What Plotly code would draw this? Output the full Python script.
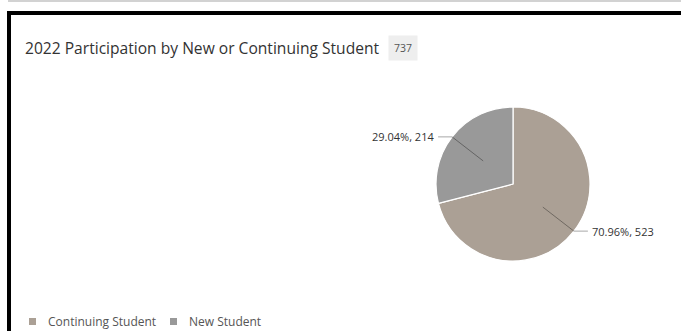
import math
import plotly.graph_objects as go

# Participation counts by student type
categories = ["Continuing Student", "New Student"]
counts = [523, 214]
colors = ["#aba095", "#999999"]
title_text = "2022 Participation by New or Continuing Student"

W, H = 681, 331
total = sum(counts)

# pie placement (pixels)
cx, cy, r = 513, 184, 77


def px(x):
    return x / W


def py(y):
    return 1 - y / H


fig = go.Figure(
    go.Pie(
        labels=categories,
        values=counts,
        sort=False,
        direction="clockwise",
        rotation=0,
        textinfo="none",
        hoverinfo="label+value+percent",
        marker=dict(colors=colors, line=dict(color="#ffffff", width=1.2)),
        domain=dict(x=[px(cx - r), px(cx + r)], y=[py(cy + r), py(cy - r)]),
        showlegend=False,
    )
)

shapes = []
annotations = []


def bar(x0, y0, x1, y1, color):
    return dict(type="rect", xref="paper", yref="paper",
                x0=px(x0), x1=px(x1), y0=py(y1), y1=py(y0),
                line=dict(width=0), fillcolor=color, layer="above")


def seg(x0, y0, x1, y1):
    return dict(type="line", xref="paper", yref="paper",
                x0=px(x0), y0=py(y0), x1=px(x1), y1=py(y1),
                line=dict(color="rgba(0,0,0,0.35)", width=1))


# frame: thin grey rule at the very top, heavy black border (top + left) below it
shapes.append(bar(8, 0, W, 2, "#d2d2d2"))
shapes.append(bar(7, 11, W, 15, "#000000"))
shapes.append(bar(7, 11, 11, H, "#000000"))

# title + total badge
annotations.append(dict(xref="paper", yref="paper", x=px(23), y=py(48),
                        xanchor="left", yanchor="middle", showarrow=False,
                        text=title_text,
                        font=dict(family="Open Sans", size=15.6, color="#333333")))
annotations.append(dict(xref="paper", yref="paper", x=px(388), y=py(48),
                        xanchor="left", yanchor="middle", showarrow=False,
                        text=str(total), bgcolor="#eeeeee", borderpad=5,
                        font=dict(family="Open Sans", size=10.5, color="#555555")))

# outside labels with leader lines, placed at each slice's mid-angle
start = 0.0
for name, v in zip(categories, counts):
    frac = v / total
    mid = start + frac * 180.0
    start += frac * 360.0
    a = math.radians(mid)
    dx, dy = math.sin(a), -math.cos(a)
    x1, y1 = cx + 0.49 * r * dx, cy + 0.49 * r * dy
    x2, y2 = cx + 1.0 * r * dx, cy + 1.0 * r * dy
    side = 1 if dx >= 0 else -1
    x3 = x2 + side * 14
    shapes.append(seg(x1, y1, x2, y2))
    shapes.append(seg(x2, y2, x3, y2))
    annotations.append(dict(xref="paper", yref="paper", x=px(x3 + side * 2), y=py(y2),
                            xanchor="left" if side > 0 else "right", yanchor="middle",
                            showarrow=False,
                            text=f"{frac * 100:.2f}%, {v}",
                            font=dict(family="Open Sans", size=11, color="#333333")))

# legend along the bottom
legend_x = [29, 170]
for lx, name, c in zip(legend_x, categories, colors):
    shapes.append(bar(lx, 318, lx + 7, 325, c))
    annotations.append(dict(xref="paper", yref="paper", x=px(lx + 17), y=py(321),
                            xanchor="left", yanchor="middle", showarrow=False,
                            text=name,
                            font=dict(family="Open Sans", size=12, color="#555555")))

fig.update_layout(
    width=W, height=H,
    margin=dict(l=0, r=0, t=0, b=0),
    shapes=shapes,
    annotations=annotations,
)

fig.write_html("out.html")
